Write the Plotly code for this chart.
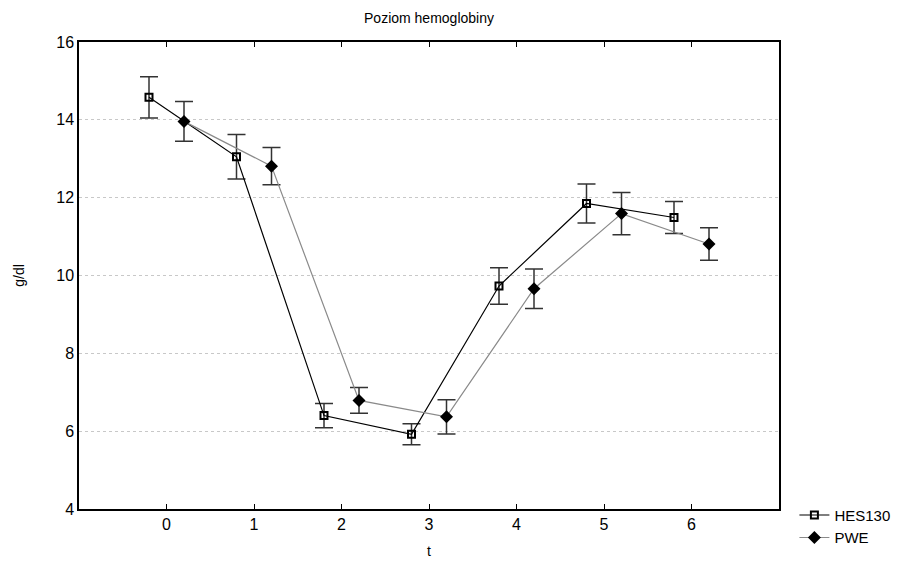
import plotly.graph_objects as go

t = [0, 1, 2, 3, 4, 5, 6]
hes_mean = [14.58, 13.05, 6.40, 5.92, 9.73, 11.85, 11.49]
hes_err = [0.53, 0.57, 0.31, 0.27, 0.47, 0.50, 0.41]
pwe_mean = [13.96, 12.81, 6.79, 6.37, 9.66, 11.59, 10.81]
pwe_err = [0.51, 0.48, 0.33, 0.44, 0.51, 0.54, 0.42]
offset = 0.2

font = "Liberation Sans, Arial, sans-serif"

fig = go.Figure()
fig.add_trace(go.Scatter(
    x=[v - offset for v in t], y=hes_mean, name="HES130",
    mode="lines+markers",
    line=dict(color="black", width=1.2),
    marker=dict(symbol="square-open", size=7, color="black", line=dict(width=2, color="black")),
    error_y=dict(type="data", array=hes_err, visible=True, color="#333333", thickness=1.5, width=9),
))
fig.add_trace(go.Scatter(
    x=[v + offset for v in t], y=pwe_mean, name="PWE",
    mode="lines+markers",
    line=dict(color="#8a8a8a", width=1.2),
    marker=dict(symbol="diamond", size=10, color="black"),
    error_y=dict(type="data", array=pwe_err, visible=True, color="#333333", thickness=1.5, width=9),
))

fig.update_layout(
    width=913, height=563,
    margin=dict(l=79, r=134, t=42, b=54, autoexpand=False),
    paper_bgcolor="white", plot_bgcolor="white",
    font=dict(family=font, size=15, color="black"),
    title=dict(text="Poziom hemoglobiny", x=(79 + 779) / 2 / 913, xanchor="center",
               y=0.968, yanchor="middle", font=dict(size=14)),
    showlegend=True,
    legend=dict(x=1.022, xanchor="left", y=0.022, yanchor="top",
                font=dict(size=15), bgcolor="rgba(0,0,0,0)",
                tracegroupgap=0, itemwidth=30),
    xaxis=dict(range=[-1, 7], tickvals=t, ticktext=[str(v) for v in t],
               automargin=False, tickfont=dict(size=16),
               showgrid=False, zeroline=False, showline=True, linecolor="black",
               linewidth=1.5, mirror="ticks", ticks="inside", ticklen=5,
               tickcolor="black", title=dict(text="t", font=dict(size=14), standoff=14)),
    yaxis=dict(range=[4, 16], tickvals=[4, 6, 8, 10, 12, 14, 16],
               automargin=False, tickfont=dict(size=16),
               showgrid=True, gridcolor="#c8c8c8", griddash="dot", gridwidth=1,
               zeroline=False, showline=True, linecolor="black", linewidth=1.5,
               mirror=True, ticks="", title=dict(text="g/dl", font=dict(size=14), standoff=28)),
)

fig.write_html("out.html")
